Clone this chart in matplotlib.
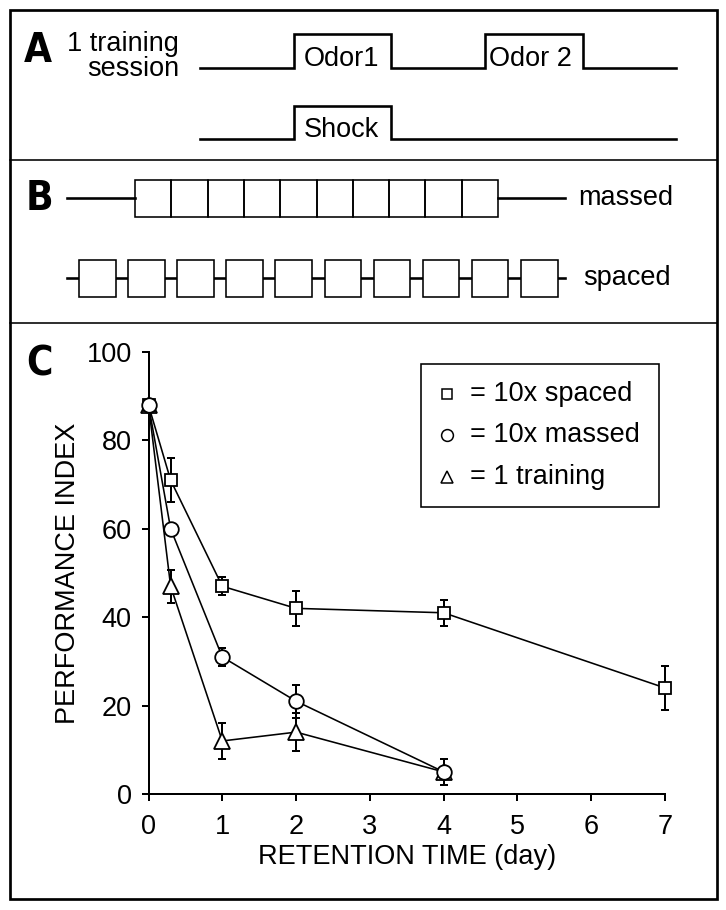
import matplotlib
matplotlib.use('Agg')
import matplotlib.pyplot as plt
from matplotlib.patches import Rectangle

plt.rcParams['font.family'] = ['Liberation Sans', 'DejaVu Sans']

# retention curves (panel C)
days_spaced = [0, 0.3, 1, 2, 4, 7]
pi_spaced = [88, 71, 47, 42, 41, 24]
err_spaced = [0, 5, 2, 4, 3, 5]

days_massed = [0, 0.3, 1, 2, 4]
pi_massed = [88, 60, 31, 21, 5]
err_massed = [0, 1, 2, 3.7, 3]

days_single = [0, 0.3, 1, 2, 4]
pi_single = [88, 47, 12, 14, 5]
err_single = [0, 3.7, 4, 4.3, 3]

x_ticks = [0, 1, 2, 3, 4, 5, 6, 7]
y_ticks = [0, 20, 40, 60, 80, 100]

legend_labels = ['= 10x spaced', '= 10x massed', '= 1 training']

PX = 72 / 100.0   # pixels -> points at dpi 100
FS = 19.5
LETTER = dict(family='DejaVu Sans', fontstretch='condensed', weight='bold',
              fontsize=29, ha='left', va='baseline')

fig = plt.figure(figsize=(7.26, 9.10), dpi=100)
ov = fig.add_axes([0, 0, 1, 1])
ov.set_xlim(0, 726)
ov.set_ylim(910, 0)
ov.axis('off')

# frame and dividers
ov.add_patch(Rectangle((10, 10), 707, 889, fill=False, ec='black', lw=2.7 * PX))
ov.plot([10, 717], [160, 160], color='black', lw=1.6 * PX)
ov.plot([10, 717], [322.5, 322.5], color='black', lw=1.6 * PX)


def step_line(edges, low, high, lw):
    xs = [edges[0]]
    ys = [low]
    level = low
    for e in edges[1:-1]:
        xs += [e, e]
        ys += [level, high if level == low else low]
        level = high if level == low else low
    xs.append(edges[-1])
    ys.append(level)
    ov.plot(xs, ys, color='black', lw=lw, solid_joinstyle='miter')


# panel A
ov.text(24, 62, 'A', **LETTER)
ov.text(179, 51, '1 training', ha='right', va='baseline', fontsize=FS)
ov.text(179, 76, 'session', ha='right', va='baseline', fontsize=FS)
step_line([200, 294, 391, 485, 583, 676], 68, 34, 2.6 * PX)
step_line([200, 294, 391, 676], 139, 106, 2.6 * PX)
ov.text(304, 66, 'Odor1', ha='left', va='baseline', fontsize=FS)
ov.text(489, 66, 'Odor 2', ha='left', va='baseline', fontsize=FS)
ov.text(304, 137, 'Shock', ha='left', va='baseline', fontsize=FS)

# panel B
ov.text(26, 210, 'B', **LETTER)
ov.plot([67, 135], [198, 198], color='black', lw=2.6 * PX)
ov.plot([498, 565], [198, 198], color='black', lw=2.6 * PX)
bw = (498 - 135) / 10.0
for i in range(10):
    ov.add_patch(Rectangle((135 + i * bw, 180), bw, 36.5, fill=False, ec='black', lw=1.6 * PX))
ov.text(578, 198, 'massed', ha='left', va='center', fontsize=FS)

ov.plot([67, 565], [278, 278], color='black', lw=2.6 * PX, zorder=1)
pitch = (521 - 79) / 9.0
for i in range(10):
    ov.add_patch(Rectangle((79 + i * pitch, 259.5), 36.5, 37, fc='white', ec='black', lw=1.6 * PX, zorder=2))
ov.text(583, 278, 'spaced', ha='left', va='center', fontsize=FS)

# panel C letter and legend
ov.text(26, 376, 'C', **LETTER)
ov.add_patch(Rectangle((421, 364), 238, 143, fill=False, ec='black', lw=1.6 * PX))
leg_y = [394, 435, 477]
leg_m = [('s', 7.5), ('o', 8.5), ('^', 9)]
for yy, (m, ms), lab in zip(leg_y, leg_m, legend_labels):
    ov.plot([447], [yy], marker=m, ms=ms, mfc='white', mec='black', mew=1.1, ls='none')
    ov.text(470, yy, lab, ha='left', va='center', fontsize=FS)

# retention plot
ax = fig.add_axes([148.5 / 726, 116 / 910, 516.5 / 726, 442 / 910])
ax.patch.set_alpha(0)
ax.set_xlim(0, 7)
ax.set_ylim(0, 100)

series = [
    (days_single, pi_single, err_single, '^', 11),
    (days_spaced, pi_spaced, err_spaced, 's', 8.5),
    (days_massed, pi_massed, err_massed, 'o', 10.5),
]
for x, y, e, m, ms in series:
    ax.plot(x, y, color='black', lw=1.6 * PX, zorder=2, clip_on=False)
    ax.errorbar(x, y, yerr=e, fmt='none', ecolor='black', elinewidth=2 * PX,
                capsize=3.2, capthick=2 * PX, zorder=2, clip_on=False)
for x, y, e, m, ms in series:
    ax.plot(x, y, ls='none', marker=m, ms=ms, mfc='white', mec='black', mew=1.3,
            zorder=3, clip_on=False)

for s in ['top', 'right']:
    ax.spines[s].set_visible(False)
for s in ['left', 'bottom']:
    ax.spines[s].set_linewidth(2 * PX)
ax.set_xticks(x_ticks)
ax.set_yticks(y_ticks)
ax.tick_params(direction='out', length=7 * PX, width=2 * PX, labelsize=FS)
ax.tick_params(axis='x', pad=9)
ax.tick_params(axis='y', pad=7)
ax.set_xlabel('RETENTION TIME (day)', fontsize=FS, labelpad=3)
ax.set_ylabel('PERFORMANCE INDEX', fontsize=FS, labelpad=4)

fig.savefig('out.png', dpi=100)
